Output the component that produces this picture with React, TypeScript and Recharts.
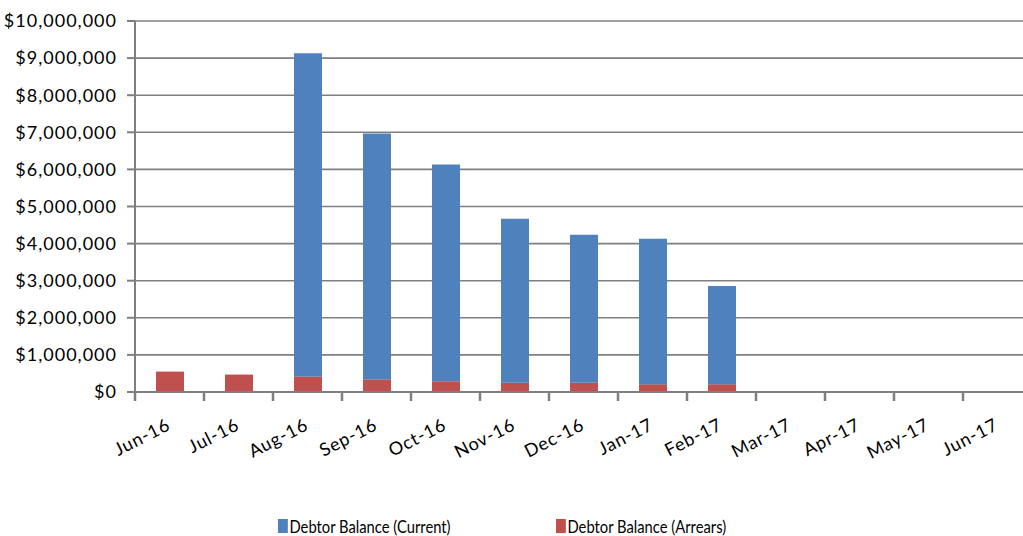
import React from "react";
import { BarChart, Bar, XAxis, YAxis, CartesianGrid } from "recharts";

const months = ["Jun-16", "Jul-16", "Aug-16", "Sep-16", "Oct-16", "Nov-16", "Dec-16", "Jan-17", "Feb-17", "Mar-17", "Apr-17", "May-17", "Jun-17"];
const currentBalance = [0, -50000, 8710000, 6630000, 5845000, 4420000, 3990000, 3920000, 2650000, 0, 0, 0, 0];
const arrearsBalance = [550000, 470000, 420000, 340000, 290000, 250000, 250000, 210000, 210000, 0, 0, 0, 0];
const yTicks = [0, 1000000, 2000000, 3000000, 4000000, 5000000, 6000000, 7000000, 8000000, 9000000, 10000000];
const seriesNames = ["Debtor Balance (Current)", "Debtor Balance (Arrears)"];
const seriesColors = ["#4F81BD", "#C0504D"];

const data = months.map((m, i) => ({ month: m, current: currentBalance[i], arrears: arrearsBalance[i] }));

const FONT = "Lato, 'Open Sans', sans-serif";
const GREY = "#7f7f7f";
const CAT_W = 897 / months.length;

const fmt = (v: number) => "$" + v.toLocaleString("en-US");

const XTick = (props: any) => {
  const { x, y, payload } = props;
  const cx = Number(x);
  const by = Number(y);
  const bx = cx - CAT_W / 2;
  return (
    <g>
      <path d={`M${bx},${by - 11}L${bx},${by - 1}`} stroke={GREY} strokeWidth={2.5} fill="none" />
      <text
        x={cx + 2}
        y={by + 27}
        textAnchor="end"
        transform={`rotate(-27, ${cx + 2}, ${by + 27})`}
        fill="#000"
        fontFamily={FONT}
        fontSize={18}
        letterSpacing={0.8}
      >
        {payload.value}
      </text>
    </g>
  );
};

export default function App() {
  return (
    <div style={{ position: "absolute", left: 0, top: 0, width: 1023, height: 536, overflow: "hidden", background: "#fff" }}>
      <BarChart width={1040} height={536} data={data} stackOffset="sign" margin={{ top: 21, right: 8, left: 0, bottom: 0 }} barSize={28}>
        <CartesianGrid vertical={false} stroke={GREY} strokeWidth={1.6} />
        <XAxis
          dataKey="month"
          height={144}
          interval={0}
          tick={<XTick />}
          tickSize={8}
          tickMargin={2}
          tickLine={false}
          axisLine={{ stroke: GREY, strokeWidth: 2 }}
        />
        <YAxis
          width={135}
          domain={[0, 10000000]}
          ticks={yTicks}
          allowDataOverflow
          tickFormatter={fmt}
          tickSize={8}
          tickMargin={10}
          tick={{ fill: "#000", fontFamily: FONT, fontSize: 18, letterSpacing: 1 } as any}
          tickLine={{ stroke: GREY, strokeWidth: 2 }}
          axisLine={{ stroke: GREY, strokeWidth: 2 }}
        />
        <Bar dataKey="arrears" name={seriesNames[1]} stackId="a" fill={seriesColors[1]} isAnimationActive={false} />
        <Bar dataKey="current" name={seriesNames[0]} stackId="a" fill={seriesColors[0]} isAnimationActive={false} />
      </BarChart>
      {seriesNames.map((n, i) => (
        <div
          key={n}
          style={{
            position: "absolute",
            left: i === 0 ? 278 : 556,
            top: 515,
            display: "flex",
            alignItems: "center",
            fontFamily: FONT,
            fontSize: 18,
            color: "#000",
            whiteSpace: "nowrap",
            transform: "scaleX(0.82)",
            transformOrigin: "left center",
          }}
        >
          <span style={{ display: "inline-block", width: 12, height: 14, background: seriesColors[i], marginRight: 2 }} />
          <span>{n}</span>
        </div>
      ))}
    </div>
  );
}
